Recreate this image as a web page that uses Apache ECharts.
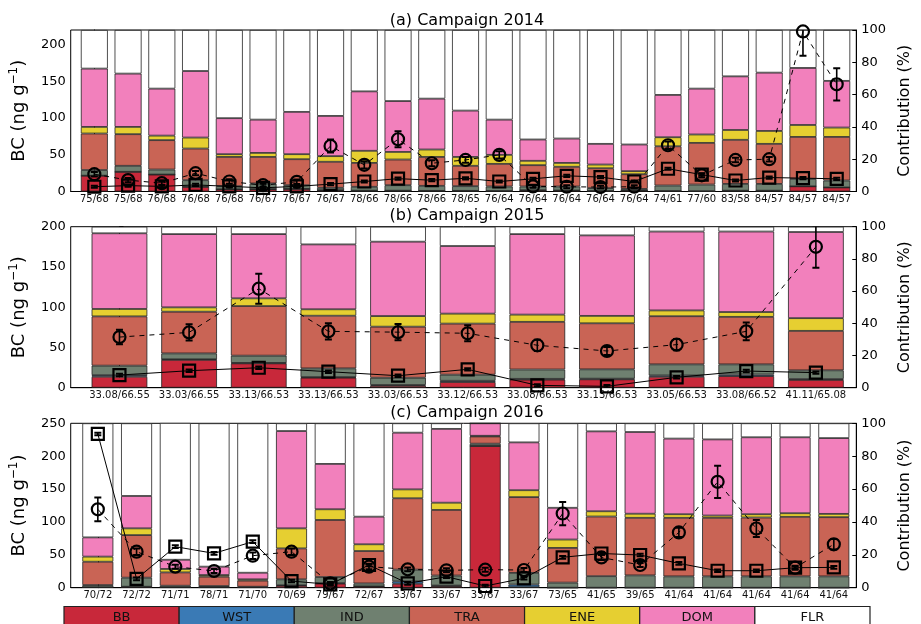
<!DOCTYPE html>
<html><head><meta charset="utf-8">
<script src="https://cdn.jsdelivr.net/npm/echarts@6/dist/echarts.min.js"></script>
<style>html,body{margin:0;padding:0;background:#fff}#c{width:921px;height:624px}</style>
</head><body><div id="c"></div>
<script>
// ---------------- data ----------------
const sources = ['BB', 'WST', 'IND', 'TRA', 'ENE', 'DOM', 'FLR'];
const sourceColors = ['#c8283a', '#3a7ab5', '#6f8070', '#c96455', '#e6cf31', '#f280bc', '#ffffff'];
const panelTitles = ['(a) Campaign 2014', '(b) Campaign 2015', '(c) Campaign 2016'];

// Campaign 2014
const catsA = ['75/68','75/68','76/68','76/68','76/68','76/67','76/67','76/67','78/66','78/66','78/66','78/65','76/64','76/64','76/64','76/64','76/64','74/61','77/60','83/58','84/57','84/57','84/57'];
const bbA  = [9.8,12.2,10.5,2.9,1.4,1.5,1.6,0.8,0.5,0.5,0.4,0.4,0.3,0.8,0.6,0.3,0.6,0.3,0.2,0.5,0.5,3.2,2.5];
const wstA = [0,0,0,0,0,0,0,0,0,0,0,0,0,0,0,0,0,0,0,0,0,0,0];
const indA = [3.5,3.7,3.1,4.1,1.9,3.5,2.3,1.5,2.4,3.4,3.1,2.9,2.8,2.3,2.5,1.8,1.0,3.4,4.1,4.2,4.2,4.6,4.3];
const traA = [22.6,19.6,18.2,19.6,18.1,16.4,16.1,16.1,14.8,15.9,17.9,12.6,14.0,13.2,12.2,12.3,9.1,24.3,25.8,27.3,24.8,26.0,27.0];
const eneA = [4.1,4.5,2.8,6.8,1.7,2.5,3.1,3.5,7.5,4.7,4.6,5.5,5.6,2.7,2.4,2.3,1.9,5.6,5.2,6.1,8.0,7.4,5.8];
const domA = [36.1,33.0,29.1,41.2,22.3,20.6,26.2,24.9,36.8,31.5,31.5,28.7,21.8,13.2,15.1,12.8,16.5,26.2,28.4,33.2,36.1,35.3,28.9];
const flrA = [23.9,27.0,36.3,25.4,54.6,55.5,50.7,53.2,38.0,44.0,42.5,49.9,55.5,67.8,67.2,70.5,70.9,40.2,36.3,28.7,26.4,23.5,31.5];
const circA    = [23.6,15.5,11.3,25,13.6,8.6,13.2,62,36.3,71.2,38.5,43,49.9,7,6.5,6,6.5,63,22,43,44,218,146];
const circErrA = [3,3,2,3,3,2,3,9,5,11,4,4,5,2,2,2,2,5,3,3,3,33,22];
const sqA      = [6.5,8,7,9,7,5,7,10,13.6,17.5,15.4,18,13.6,17.3,21.4,19.6,13.6,31,23,15,19,18.2,17.3];
const sqErrA   = [1.5,1.5,1.5,1.5,1.5,1.5,1.5,1.5,1.5,1.5,1.5,1.5,1.5,1.5,1.5,1.5,1.5,1.5,1.5,1.5,1.5,1.5,1.5];

// Campaign 2015
const catsB = ['33.08/66.55','33.03/66.55','33.13/66.53','33.13/66.53','33.03/66.53','33.12/66.53','33.08/66.53','33.13/66.53','33.05/66.53','33.08/66.52','41.11/65.08'];
const bbB  = [6.8,17.3,15.1,6.2,1.2,3.5,5.0,5.2,6.8,7.2,4.8];
const wstB = [1.0,0.3,0.3,0.4,0.5,0.8,0.5,0.4,0.8,1.0,0.6];
const indB = [5.9,3.7,4.5,5.4,4.5,3.8,5.8,5.8,6.9,6.3,5.4];
const traB = [30.6,25.9,30.8,32.7,31.7,31.7,29.6,28.6,29.9,29.5,24.5];
const eneB = [4.6,2.7,4.8,4.0,6.6,6.2,4.5,4.6,3.6,3.0,7.9];
const domB = [47.0,45.5,39.9,40.3,46.2,42.0,50.0,50.0,49.0,50.0,53.5];
const flrB = [4.1,4.6,4.6,11.0,9.3,12.0,4.6,5.4,3.0,3.0,3.3];
const circB    = [62.9,68.7,123,70,69,67.6,52.7,45.6,53.5,70,175];
const circErrB = [9,10,18.6,10,10,10,7,5,7,11,26];
const sqB      = [15.7,21.1,24.8,19.9,14.9,22.8,2.9,1.7,12.9,20.7,18.7];
const sqErrB   = [1.5,1.5,1.5,1.5,1.5,1.5,1.5,1.5,1.5,1.5,1.5];

// Campaign 2016
const catsC = ['70/72','72/72','71/71','78/71','71/70','70/69','79/67','72/67','33/67','33/67','33/67','33/67','73/65','41/65','39/65','41/64','41/64','41/64','41/64','41/64'];
const bbC  = [0.3,0.6,0.2,0.2,0.2,1.2,2.5,0.8,2.4,1.0,86.2,0.3,0,0,0,0,0,0,0,0];
const wstC = [0,0,0,0,0,0.3,0.3,0,1.5,0.3,0,1.6,0,0,0,0,0,0,0,0];
const indC = [1.3,5.5,1.0,0.8,0.4,3.6,3.7,1.8,7.1,6.1,1.4,7.1,3.1,7.0,7.5,6.9,6.9,6.9,6.9,6.9];
const traC = [14.2,25.9,8.1,5.7,3.7,18.8,34.7,19.7,43.4,39.9,4.4,46.1,21.1,36.3,35.0,35.6,35.6,35.8,36.2,36.0];
const eneC = [3.1,4.1,2.1,1.0,0.8,12.2,6.5,4.1,5.4,4.4,0.4,4.2,5.1,3.2,2.5,2.2,1.4,2.0,2.2,2.0];
const domC = [11.7,19.7,5.6,5.1,4.0,59.2,27.6,16.8,34.5,44.9,7.6,29.1,19.3,48.6,49.7,46.0,46.3,46.8,46.2,46.1];
const flrC = [69.4,44.2,83.2,87.2,90.9,4.7,24.7,56.8,5.7,3.4,0,11.6,51.4,4.9,5.3,9.3,9.8,8.5,8.5,9.0];
const circC    = [119.2,54.8,32,25.4,48.7,54.8,6.6,32,27.9,26.4,27.4,26.9,112.8,46,34.5,84,161,90,30.4,66];
const circErrC = [18,5,3,3,5,5,2,4,3,3,3,3,17.7,4,3,7,24.5,13,3,8];
const sqC      = [233.8,13.5,62.4,52.2,70,10.1,5,34.5,6.6,16.7,2.6,14.3,46.2,52,49.7,37,25.8,25.8,30.4,30.9];
const sqErrC   = [2,2,2,2,2,2,2,2,2,2,2,2,2,2,2,2,2,2,2,2];

const bcMax = [220, 200, 250];

// ---------------- layout ----------------
const FONT = 'DejaVu Sans';
const panels = [
  {cats: catsA, shares: [bbA, wstA, indA, traA, eneA, domA, flrA], circ: circA, circErr: circErrA, sq: sqA, sqErr: sqErrA, top: 30, bottom: 432.5},
  {cats: catsB, shares: [bbB, wstB, indB, traB, eneB, domB, flrB], circ: circB, circErr: circErrB, sq: sqB, sqErr: sqErrB, top: 226.7, bottom: 236.3},
  {cats: catsC, shares: [bbC, wstC, indC, traC, eneC, domC, flrC], circ: circC, circErr: circErrC, sq: sqC, sqErr: sqErrC, top: 423.3, bottom: 36.3}
];

const grid = [], xAxis = [], yAxis = [], series = [], title = [];

function errRender(params, api) {
  const x = api.value(0);
  const p1 = api.coord([x, api.value(1)]);
  const p2 = api.coord([x, api.value(2)]);
  const cw = 3.5;
  return {type: 'group', children: [
    {type: 'line', shape: {x1: p1[0], y1: p1[1], x2: p2[0], y2: p2[1]}, style: {stroke: '#000', lineWidth: 1.6}},
    {type: 'line', shape: {x1: p1[0] - cw, y1: p1[1], x2: p1[0] + cw, y2: p1[1]}, style: {stroke: '#000', lineWidth: 2}},
    {type: 'line', shape: {x1: p2[0] - cw, y1: p2[1], x2: p2[0] + cw, y2: p2[1]}, style: {stroke: '#000', lineWidth: 2}}
  ]};
}

panels.forEach((p, g) => {
  const n = p.cats.length;
  grid.push({left: 64, right: 51, top: p.top, bottom: p.bottom, show: true, borderColor: '#000', borderWidth: 1, backgroundColor: 'transparent'});
  title.push({text: panelTitles[g], left: 467, textAlign: 'center', top: [13, 208, 405][g], padding: 0,
    textStyle: {fontFamily: FONT, fontSize: 16, fontWeight: 'normal', color: '#000'}});
  xAxis.push({gridIndex: g, type: 'value', min: -0.7, max: n - 0.42,
    axisLine: {show: true, lineStyle: {color: '#000', width: 1}},
    axisTick: {show: false}, splitLine: {show: false},
    axisLabel: {customValues: p.cats.map((c, i) => i), formatter: v => p.cats[Math.round(v)] || '',
      fontFamily: FONT, fontSize: 10, color: '#111', margin: 3}});
  yAxis.push({gridIndex: g, type: 'value', position: 'left', min: 0, max: bcMax[g], interval: 50,
    name: 'BC (ng g{sup|−1})', nameLocation: 'middle', nameGap: 34,
    nameTextStyle: {fontFamily: FONT, fontSize: 18, color: '#000', lineHeight: 22,
      rich: {sup: {fontFamily: FONT, fontSize: 12, verticalAlign: 'top', lineHeight: 22, padding: [0, 0, 6, 0]}}},
    axisLine: {show: true, lineStyle: {color: '#000'}},
    axisTick: {show: true, inside: true, length: 4, lineStyle: {color: '#000'}},
    axisLabel: {fontFamily: FONT, fontSize: 13, color: '#000', margin: 5, showMaxLabel: bcMax[g] % 50 === 0},
    splitLine: {show: false}});
  yAxis.push({gridIndex: g, type: 'value', position: 'right', min: 0, max: 100, interval: 20,
    name: 'Contribution (%)', nameLocation: 'middle', nameGap: 34, nameRotate: 90,
    nameTextStyle: {fontFamily: FONT, fontSize: 16, color: '#000'},
    axisLine: {show: true, lineStyle: {color: '#000'}},
    axisTick: {show: true, inside: true, length: 4, lineStyle: {color: '#000'}},
    axisLabel: {fontFamily: FONT, fontSize: 13, color: '#000', margin: 5},
    splitLine: {show: false}});
  sources.forEach((s, k) => {
    // value first so that the stack is computed on the y (percentage) dimension
    series.push({type: 'bar', name: s, xAxisIndex: g, yAxisIndex: 2 * g + 1, stack: 'p' + g,
      barWidth: '80%', z: 2, silent: true,
      encode: {x: 1, y: 0},
      itemStyle: {color: sourceColors[k], borderColor: '#222', borderWidth: 0.8},
      data: p.shares[k].map((v, i) => [v, i])});
  });
  series.push({type: 'line', xAxisIndex: g, yAxisIndex: 2 * g, z: 5, clip: true,
    symbol: 'circle', symbolSize: 12,
    lineStyle: {color: '#000', width: 1, type: [5, 5]},
    itemStyle: {color: 'rgba(0,0,0,0)', borderColor: '#000', borderWidth: 2.2},
    data: p.circ.map((v, i) => [i, v])});
  series.push({type: 'line', xAxisIndex: g, yAxisIndex: 2 * g, z: 5, clip: true,
    symbol: 'rect', symbolSize: 12,
    lineStyle: {color: '#000', width: 1},
    itemStyle: {color: 'rgba(0,0,0,0)', borderColor: '#000', borderWidth: 2.2},
    data: p.sq.map((v, i) => [i, v])});
  series.push({type: 'custom', xAxisIndex: g, yAxisIndex: 2 * g, z: 6, clip: true, renderItem: errRender,
    encode: {x: 0, y: [1, 2]},
    data: p.circ.map((v, i) => [i, v - p.circErr[i], v + p.circErr[i]])});
  series.push({type: 'custom', xAxisIndex: g, yAxisIndex: 2 * g, z: 6, clip: true, renderItem: errRender,
    encode: {x: 0, y: [1, 2]},
    data: p.sq.map((v, i) => [i, v - p.sqErr[i], v + p.sqErr[i]])});
});

// legend table
const legW = (870 - 64) / sources.length;
const graphic = sources.map((s, i) => ({type: 'group', children: [
  {type: 'rect', shape: {x: 64 + i * legW, y: 606.5, width: legW, height: 26}, style: {fill: sourceColors[i], stroke: '#222', lineWidth: 1.2}},
  {type: 'text', style: {text: s, x: 64 + i * legW + legW / 2, y: 618, align: 'center', verticalAlign: 'middle',
    fontFamily: FONT, fontSize: 13, fill: '#111'}}
]}));

const chart = echarts.init(document.getElementById('c'), null, {renderer: 'canvas'});
chart.setOption({animation: false, backgroundColor: '#fff', title, grid, xAxis, yAxis, series, graphic});
</script></body></html>
